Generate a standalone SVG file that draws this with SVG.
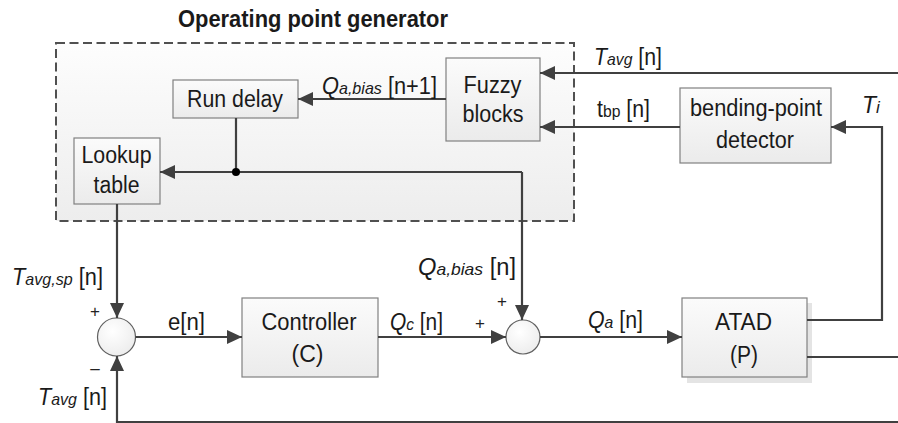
<svg xmlns="http://www.w3.org/2000/svg" width="898" height="423" viewBox="0 0 898 423">
<defs>
<linearGradient id="boxg" x1="0" y1="0" x2="0" y2="1">
<stop offset="0" stop-color="#fbfbfb"/>
<stop offset="1" stop-color="#ebebeb"/>
</linearGradient>
<linearGradient id="grpg" x1="0" y1="0" x2="0" y2="1">
<stop offset="0" stop-color="#fdfdfd"/>
<stop offset="1" stop-color="#ededed"/>
</linearGradient>
<radialGradient id="circg" cx="0.4" cy="0.35" r="0.7">
<stop offset="0" stop-color="#ffffff"/>
<stop offset="1" stop-color="#ececec"/>
</radialGradient>
<marker id="arr" viewBox="0 0 15 14" refX="15" refY="7" markerWidth="15" markerHeight="14" markerUnits="userSpaceOnUse" orient="auto">
<path d="M0,0 L15,7 L0,14 z" fill="#404040"/>
</marker>
</defs>
<style>
text{font-family:"Liberation Sans",Arial,sans-serif;font-size:23px;fill:#1a1a1a}
.box{fill:url(#boxg);stroke:#808080;stroke-width:1.2}
.sum{fill:url(#circg);stroke:#606060;stroke-width:1.2}
.c{fill:none;stroke:#404040;stroke-width:2.2}
.a{marker-end:url(#arr)}
.m{text-anchor:middle}
.i{font-style:italic}
.s{font-size:17px}
.sign{font-size:17px;text-anchor:middle;fill:#222222}
</style>
<rect width="898" height="423" fill="#ffffff"/>

<g id="operating-point-generator">
<rect x="56" y="43" width="518" height="178" fill="url(#grpg)" stroke="#505050" stroke-width="2" stroke-dasharray="9,4.5"/>
<text x="313" y="27" class="m" font-weight="bold" textLength="270" lengthAdjust="spacingAndGlyphs">Operating point generator</text>
</g>

<g id="run-delay">
<rect class="box" x="173" y="80" width="125" height="38"/>
<text x="235" y="107" class="m" textLength="96" lengthAdjust="spacingAndGlyphs">Run delay</text>
</g>

<g id="lookup-table">
<rect class="box" x="74" y="138" width="86" height="66"/>
<text x="116.5" y="163" class="m" textLength="70" lengthAdjust="spacingAndGlyphs">Lookup</text>
<text x="116.5" y="193" class="m" textLength="46" lengthAdjust="spacingAndGlyphs">table</text>
</g>

<g id="fuzzy-blocks">
<rect class="box" x="446" y="58" width="94" height="83"/>
<text x="492.5" y="93" class="m" textLength="58" lengthAdjust="spacingAndGlyphs">Fuzzy</text>
<text x="493" y="122" class="m" textLength="61" lengthAdjust="spacingAndGlyphs">blocks</text>
</g>

<g id="bending-point-detector">
<rect class="box" x="680" y="88" width="151" height="75"/>
<text x="756" y="116" class="m" textLength="132" lengthAdjust="spacingAndGlyphs">bending-point</text>
<text x="755" y="148" class="m" textLength="78" lengthAdjust="spacingAndGlyphs">detector</text>
</g>

<g id="controller">
<rect class="box" x="242" y="298" width="136" height="79"/>
<text x="309" y="330" class="m" textLength="95" lengthAdjust="spacingAndGlyphs">Controller</text>
<text x="307.5" y="362" class="m" textLength="32" lengthAdjust="spacingAndGlyphs">(C)</text>
</g>

<g id="atad">
<rect x="687" y="303" width="125" height="80" fill="#e4e4e4"/>
<rect class="box" x="682" y="298" width="125" height="79"/>
<text x="743.5" y="330" class="m" textLength="57" lengthAdjust="spacingAndGlyphs">ATAD</text>
<text x="744" y="363" class="m" textLength="28" lengthAdjust="spacingAndGlyphs">(P)</text>
</g>

<g id="sum1">
<circle class="sum" cx="116.5" cy="337" r="19"/>
<text x="95" y="317" class="sign">+</text>
<text x="95" y="374" class="sign">–</text>
</g>

<g id="sum2">
<circle class="sum" cx="523" cy="337" r="17"/>
<text x="480" y="329" class="sign">+</text>
<text x="502" y="306.5" class="sign">+</text>
</g>

<g id="connectors">
<path class="c a" d="M898,73 L540,73"/>
<path class="c a" d="M680,127 L540,127"/>
<path class="c a" d="M446,99 L298,99"/>
<path class="c" d="M236,118 L236,172"/>
<path class="c a" d="M522,172 L160,172"/>
<path class="c a" d="M522,172 L522,320"/>
<path class="c a" d="M117,204 L117,318"/>
<path class="c a" d="M135.5,337 L242,337"/>
<path class="c a" d="M378,337 L506,337"/>
<path class="c a" d="M540,337 L682,337"/>
<path class="c a" d="M807,320 L882,320 L882,127 L831,127"/>
<path class="c" d="M807,357 L898,357"/>
<path class="c a" d="M898,422 L117,422 L117,356"/>
<circle cx="236" cy="172" r="4" fill="#000000"/>

<text x="322" y="94" textLength="115" lengthAdjust="spacingAndGlyphs"><tspan class="i">Q</tspan><tspan class="i s">a,bias</tspan> [n+1]</text>
<text x="594" y="65" textLength="68" lengthAdjust="spacingAndGlyphs"><tspan class="i">T</tspan><tspan class="i s">avg</tspan> [n]</text>
<text x="597" y="117" textLength="53" lengthAdjust="spacingAndGlyphs">t<tspan class="s">bp</tspan> [n]</text>
<text x="862" y="113"><tspan class="i">T</tspan><tspan class="i s">i</tspan></text>
<text x="418" y="275" textLength="98" lengthAdjust="spacingAndGlyphs"><tspan class="i">Q</tspan><tspan class="i s">a,bias</tspan> [n]</text>
<text x="12" y="285" textLength="91" lengthAdjust="spacingAndGlyphs"><tspan class="i">T</tspan><tspan class="i s">avg,sp</tspan> [n]</text>
<text x="38" y="405" textLength="69" lengthAdjust="spacingAndGlyphs"><tspan class="i">T</tspan><tspan class="i s">avg</tspan> [n]</text>
<text x="168" y="330" textLength="37" lengthAdjust="spacingAndGlyphs">e[n]</text>
<text x="390" y="330" textLength="53" lengthAdjust="spacingAndGlyphs"><tspan class="i">Q</tspan><tspan class="i s">c</tspan> [n]</text>
<text x="588" y="328" textLength="55" lengthAdjust="spacingAndGlyphs"><tspan class="i">Q</tspan><tspan class="i s">a</tspan> [n]</text>
</g>
</svg>
